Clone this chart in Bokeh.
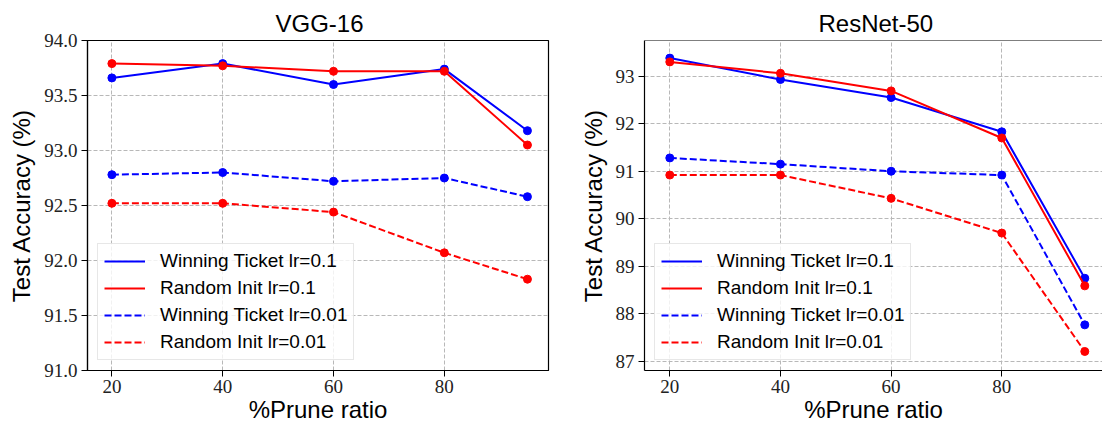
from bokeh.plotting import figure
from bokeh.layouts import row
from bokeh.models import Range1d, FixedTicker, Span, PrintfTickFormatter
from bokeh.embed import file_html
from bokeh.resources import INLINE

# ---------------- data ----------------
prune_ratio = [20, 40, 60, 80, 95]

vgg_winning_lr01 = [93.66, 93.79, 93.60, 93.74, 93.18]
vgg_random_lr01 = [93.79, 93.77, 93.72, 93.72, 93.05]
vgg_winning_lr001 = [92.78, 92.80, 92.72, 92.75, 92.58]
vgg_random_lr001 = [92.52, 92.52, 92.44, 92.07, 91.83]

res_winning_lr01 = [93.38, 92.93, 92.55, 91.83, 88.75]
res_random_lr01 = [93.30, 93.06, 92.69, 91.70, 88.59]
res_winning_lr001 = [91.28, 91.15, 91.00, 90.92, 87.77]
res_random_lr001 = [90.92, 90.92, 90.43, 89.70, 87.21]

series_labels = ["Winning Ticket lr=0.1", "Random Init lr=0.1",
                 "Winning Ticket lr=0.01", "Random Init lr=0.01"]
series_colors = ["blue", "red", "blue", "red"]
series_dash = ["solid", "solid", "7 3", "7 3"]

x_ticks = [20, 40, 60, 80]
vgg_y_ticks = [91.0, 91.5, 92.0, 92.5, 93.0, 93.5, 94.0]
res_y_ticks = [87, 88, 89, 90, 91, 92, 93]

SANS = "Liberation Sans"
SERIF = "Liberation Serif"


def make(title, ys, xr, yr, yticks, yfmt, width, border_left, border_top,
         border_right, title_offset, outline):
    p = figure(width=width, height=426,
               x_range=Range1d(*xr), y_range=Range1d(*yr),
               output_backend="svg", toolbar_location=None,
               min_border_left=border_left, min_border_right=border_right,
               min_border_top=border_top, min_border_bottom=56)
    p.background_fill_color = "white"
    p.border_fill_color = "white"
    if outline:
        p.outline_line_color = "black"
        p.outline_line_width = 1.2
    else:
        p.outline_line_color = None
        p.add_layout(Span(location=yr[1], dimension="width",
                          line_color="black", line_width=1.2))

    p.title.text = title
    p.title.text_font = SANS
    p.title.text_font_size = "24px"
    p.title.text_font_style = "normal"
    p.title.text_color = "black"
    p.title.align = "left"
    p.title.offset = title_offset
    p.title.standoff = 8

    p.xaxis.ticker = FixedTicker(ticks=x_ticks)
    p.yaxis.ticker = FixedTicker(ticks=yticks)
    p.yaxis.formatter = PrintfTickFormatter(format=yfmt)

    for ax in (p.xaxis, p.yaxis):
        ax.axis_line_color = "black"
        ax.axis_line_width = 1.2
        ax.major_tick_line_color = "black"
        ax.major_tick_out = 6
        ax.major_tick_in = 0
        ax.minor_tick_line_color = None
        ax.major_label_text_font = SERIF
        ax.major_label_text_font_size = "19px"
        ax.major_label_text_color = "#222222"
        ax.axis_label_text_font = SANS
        ax.axis_label_text_font_size = "24px"
        ax.axis_label_text_font_style = "normal"
        ax.axis_label_text_color = "black"

    p.xaxis.axis_label = "%Prune ratio"
    p.yaxis.axis_label = "Test Accuracy (%)"
    p.xaxis.major_label_standoff = 3
    p.yaxis.major_label_standoff = 4
    p.xaxis.axis_label_standoff = 0
    p.yaxis.axis_label_standoff = 6

    for g in (p.xgrid, p.ygrid):
        g.grid_line_color = "#b8b8b8"
        g.grid_line_dash = "4 2"
        g.grid_line_width = 1
    p.xgrid.ticker = FixedTicker(ticks=x_ticks)
    p.ygrid.ticker = FixedTicker(ticks=yticks)

    for y, lab, col, dash in zip(ys, series_labels, series_colors, series_dash):
        p.line(prune_ratio, y, line_color=col, line_width=2,
               line_dash=dash, legend_label=lab)
        p.scatter(prune_ratio, y, size=8, color=col)

    lg = p.legend[0]
    lg.location = "bottom_left"
    lg.margin = 10
    lg.padding = 6
    lg.spacing = 5
    lg.glyph_width = 41
    lg.glyph_height = 22
    lg.label_height = 22
    lg.label_standoff = 15
    lg.label_text_font = SANS
    lg.label_text_font_size = "19px"
    lg.label_text_color = "black"
    lg.border_line_color = "#d0d0d0"
    lg.border_line_width = 1
    lg.background_fill_color = "white"
    lg.background_fill_alpha = 0.8
    return p


p1 = make("VGG-16",
          [vgg_winning_lr01, vgg_random_lr01, vgg_winning_lr001, vgg_random_lr001],
          (15.6, 98.8), (91.0, 94.0), vgg_y_ticks, "%.1f",
          564, 87, 40, 16, 188, True)
p2 = make("ResNet-50",
          [res_winning_lr01, res_random_lr01, res_winning_lr001, res_random_lr001],
          (15.43, 98.2), (86.81, 93.75), res_y_ticks, "%d",
          538, 80, 37, 0, 174, False)

layout = row(p1, p2)
open("out.html", "w").write(file_html(layout, INLINE))
